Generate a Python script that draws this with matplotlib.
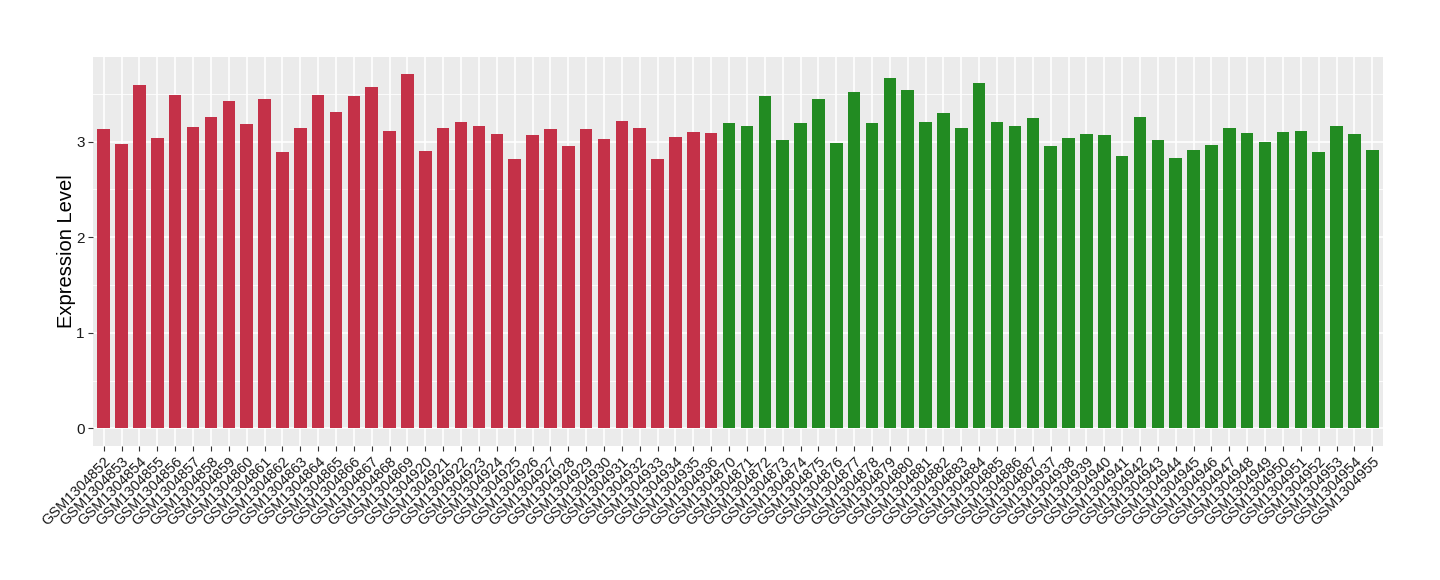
import matplotlib
matplotlib.use("Agg")
import matplotlib.pyplot as plt
import numpy as np

red_samples = ["GSM1304852", "GSM1304853", "GSM1304854", "GSM1304855", "GSM1304856", "GSM1304857",
               "GSM1304858", "GSM1304859", "GSM1304860", "GSM1304861", "GSM1304862", "GSM1304863",
               "GSM1304864", "GSM1304865", "GSM1304866", "GSM1304867", "GSM1304868", "GSM1304869",
               "GSM1304920", "GSM1304921", "GSM1304922", "GSM1304923", "GSM1304924", "GSM1304925",
               "GSM1304926", "GSM1304927", "GSM1304928", "GSM1304929", "GSM1304930", "GSM1304931",
               "GSM1304932", "GSM1304933", "GSM1304934", "GSM1304935", "GSM1304936"]
red_values = [3.136, 2.979, 3.596, 3.041, 3.491, 3.157, 3.261, 3.429, 3.188, 3.450, 2.895, 3.146,
              3.491, 3.314, 3.481, 3.575, 3.115, 3.711,
              2.905, 3.146, 3.209, 3.167, 3.083, 2.822, 3.073, 3.136, 2.958, 3.136, 3.031, 3.219,
              3.146, 2.822, 3.052, 3.104, 3.094]

green_samples = ["GSM1304870", "GSM1304871", "GSM1304872", "GSM1304873", "GSM1304874", "GSM1304875",
                 "GSM1304876", "GSM1304877", "GSM1304878", "GSM1304879", "GSM1304880", "GSM1304881",
                 "GSM1304882", "GSM1304883", "GSM1304884", "GSM1304885", "GSM1304886", "GSM1304887",
                 "GSM1304937", "GSM1304938", "GSM1304939", "GSM1304940", "GSM1304941", "GSM1304942",
                 "GSM1304943", "GSM1304944", "GSM1304945", "GSM1304946", "GSM1304947", "GSM1304948",
                 "GSM1304949", "GSM1304950", "GSM1304951", "GSM1304952", "GSM1304953", "GSM1304954",
                 "GSM1304955"]
green_values = [3.198, 3.167, 3.481, 3.021, 3.198, 3.450, 2.989, 3.523, 3.198, 3.669, 3.544, 3.209,
                3.303, 3.146, 3.617, 3.209, 3.167, 3.251,
                2.958, 3.041, 3.083, 3.073, 2.853, 3.261, 3.021, 2.832, 2.916, 2.968, 3.146, 3.094,
                3.000, 3.104, 3.115, 2.895, 3.167, 3.083, 2.916]

y_ticks = [0, 1, 2, 3]
y_label = "Expression Level"

RED = "#C43148"
GREEN = "#228B22"

plt.rcParams['font.family'] = ['Liberation Sans', 'DejaVu Sans']

labels = red_samples + green_samples
values = red_values + green_values
colors = [RED] * len(red_values) + [GREEN] * len(green_values)
x = np.arange(len(labels))

fig = plt.figure(figsize=(14.4, 5.8), dpi=100)
ax = fig.add_axes([93 / 1440, 1 - 446 / 580, (1383 - 93) / 1440, (446 - 56.7) / 580])
ax.set_facecolor("#EBEBEB")

# grid
for yv in np.arange(0.5, 4, 1.0):
    ax.axhline(yv, color="white", lw=0.6, zorder=0.5)
for yv in y_ticks:
    ax.axhline(yv, color="white", lw=1.2, zorder=0.6)
for xv in x:
    ax.axvline(xv, color="white", lw=1.2, zorder=0.6)

ax.bar(x, values, width=0.7, color=colors, zorder=2)

ax.set_xlim(-0.6, len(labels) - 1 + 0.6)
ax.set_ylim(-0.185, 3.89)
ax.set_yticks(y_ticks)
ax.set_yticklabels([str(v) for v in y_ticks], fontsize=11, color="#1A1A1A")
ax.set_xticks(x)
ax.set_xticklabels(labels, rotation=45, ha="right", va="top", rotation_mode="anchor",
                   fontsize=10.5, color="#1A1A1A")
ax.tick_params(axis="both", length=3.5, width=0.8, color="#333333", pad=2.5)
ax.set_ylabel(y_label, fontsize=14.5, color="black", labelpad=0)
for s in ax.spines.values():
    s.set_visible(False)

fig.savefig("out.png", dpi=100)
